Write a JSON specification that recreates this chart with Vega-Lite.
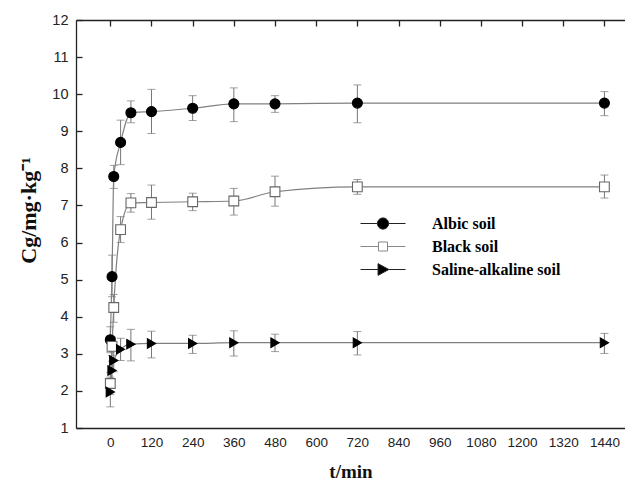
{
  "$schema": "https://vega.github.io/schema/vega-lite/v6.json",
  "width": 549,
  "height": 408,
  "autosize": {"type": "none"},
  "padding": {"left": 76, "top": 20, "right": 0, "bottom": 56},
  "background": "white",
  "config": {
    "view": {"stroke": null},
    "axis": {
      "grid": false,
      "labelOverlap": false,
      "labelFont": "Liberation Sans",
      "labelFontSize": 14,
      "labelColor": "#222",
      "domainColor": "#222",
      "domainWidth": 1.3,
      "titleFont": "Liberation Serif",
      "titleFontWeight": "bold",
      "titleFontSize": 19,
      "titleColor": "#111"
    }
  },
  "data": {
    "values": [
      {"series": "Albic soil", "t": 0, "v": 3.38, "lo": 3.03, "hi": 3.73},
      {"series": "Albic soil", "t": 5, "v": 5.08, "lo": 4.54, "hi": 5.66},
      {"series": "Albic soil", "t": 10, "v": 7.78, "lo": 7.46, "hi": 8.08},
      {"series": "Albic soil", "t": 30, "v": 8.7, "lo": 8.1, "hi": 9.3},
      {"series": "Albic soil", "t": 60, "v": 9.5, "lo": 9.23, "hi": 9.82},
      {"series": "Albic soil", "t": 120, "v": 9.53, "lo": 8.94, "hi": 10.13},
      {"series": "Albic soil", "t": 240, "v": 9.62, "lo": 9.29, "hi": 9.96},
      {"series": "Albic soil", "t": 360, "v": 9.74, "lo": 9.26, "hi": 10.17},
      {"series": "Albic soil", "t": 480, "v": 9.74, "lo": 9.51, "hi": 9.96},
      {"series": "Albic soil", "t": 720, "v": 9.76, "lo": 9.23, "hi": 10.25},
      {"series": "Albic soil", "t": 1440, "v": 9.76, "lo": 9.42, "hi": 10.07},
      {"series": "Black soil", "t": 0, "v": 2.2, "lo": 1.9, "hi": 2.5},
      {"series": "Black soil", "t": 5, "v": 3.2, "lo": 2.95, "hi": 3.45},
      {"series": "Black soil", "t": 10, "v": 4.25, "lo": 3.85, "hi": 4.6},
      {"series": "Black soil", "t": 30, "v": 6.35, "lo": 6.0, "hi": 6.7},
      {"series": "Black soil", "t": 60, "v": 7.07, "lo": 6.82, "hi": 7.32},
      {"series": "Black soil", "t": 120, "v": 7.08, "lo": 6.63, "hi": 7.55},
      {"series": "Black soil", "t": 240, "v": 7.1, "lo": 6.86, "hi": 7.33},
      {"series": "Black soil", "t": 360, "v": 7.12, "lo": 6.74, "hi": 7.46},
      {"series": "Black soil", "t": 480, "v": 7.37, "lo": 6.98, "hi": 7.79},
      {"series": "Black soil", "t": 720, "v": 7.5, "lo": 7.3, "hi": 7.7},
      {"series": "Black soil", "t": 1440, "v": 7.5, "lo": 7.2, "hi": 7.82},
      {"series": "Saline-alkaline soil", "t": 0, "v": 1.97, "lo": 1.57, "hi": 2.37},
      {"series": "Saline-alkaline soil", "t": 5, "v": 2.55, "lo": 2.3, "hi": 2.8},
      {"series": "Saline-alkaline soil", "t": 10, "v": 2.82, "lo": 2.52, "hi": 3.12},
      {"series": "Saline-alkaline soil", "t": 30, "v": 3.12, "lo": 2.82, "hi": 3.42},
      {"series": "Saline-alkaline soil", "t": 60, "v": 3.26, "lo": 2.81, "hi": 3.66},
      {"series": "Saline-alkaline soil", "t": 120, "v": 3.28, "lo": 2.89, "hi": 3.61},
      {"series": "Saline-alkaline soil", "t": 240, "v": 3.28, "lo": 3.01, "hi": 3.5},
      {"series": "Saline-alkaline soil", "t": 360, "v": 3.3, "lo": 2.94, "hi": 3.62},
      {"series": "Saline-alkaline soil", "t": 480, "v": 3.3, "lo": 3.06, "hi": 3.53},
      {"series": "Saline-alkaline soil", "t": 720, "v": 3.3, "lo": 2.97, "hi": 3.6},
      {"series": "Saline-alkaline soil", "t": 1440, "v": 3.3, "lo": 3.01, "hi": 3.55}
    ]
  },
  "resolve": {"scale": {"shape": "independent", "fill": "independent", "stroke": "independent", "size": "independent"}, "axis": {"x": "independent", "y": "independent"}},
  "layer": [
    {
      "mark": {"type": "rule", "color": "#777", "strokeWidth": 1},
      "encoding": {
        "x": {"field": "t", "type": "quantitative", "scale": {"domain": [-100, 1500], "nice": false, "zero": false},
              "axis": {"orient": "top", "labels": false, "ticks": false, "title": null, "domain": true, "grid": false}},
        "y": {"field": "lo", "type": "quantitative", "scale": {"domain": [1, 12], "nice": false, "zero": false},
              "axis": {"values": [1,2,3,4,5,6,7,8,9,10,11,12], "labelOverlap": false, "ticks": false,
                       "grid": true, "gridDash": [6, 2000], "gridColor": "#222", "gridWidth": 1.3, "gridOpacity": 1,
                       "labelPadding": 8, "labelFontSize": 14.5, "title": "Cg/mg·kg⁻¹", "titlePadding": 11, "titleFontSize": 22, "titleY": 190}},
        "y2": {"field": "hi"}
      }
    },
    {
      "mark": {"type": "tick", "orient": "horizontal", "color": "#777", "size": 8, "thickness": 1},
      "encoding": {
        "x": {"field": "t", "type": "quantitative", "axis": null},
        "y": {"field": "lo", "type": "quantitative", "axis": null}
      }
    },
    {
      "mark": {"type": "tick", "orient": "horizontal", "color": "#777", "size": 8, "thickness": 1},
      "encoding": {
        "x": {"field": "t", "type": "quantitative", "axis": null},
        "y": {"field": "hi", "type": "quantitative", "axis": null}
      }
    },
    {
      "mark": {"type": "line", "color": "#808080", "strokeWidth": 1.2, "interpolate": "monotone"},
      "encoding": {
        "x": {"field": "t", "type": "quantitative",
              "axis": {"orient": "bottom", "values": [0,120,240,360,480,600,720,840,960,1080,1200,1320,1440], "format": "d",
                       "labelOverlap": false, "ticks": false,
                       "grid": true, "gridDash": [6, 2000], "gridColor": "#222", "gridWidth": 1.3, "gridOpacity": 1,
                       "labelPadding": 7, "title": "t/min", "titlePadding": 14, "labelFontSize": 13.5}},
        "y": {"field": "v", "type": "quantitative", "axis": null},
        "detail": {"field": "series"}
      }
    },
    {
      "mark": {"type": "point", "filled": false, "opacity": 1, "strokeWidth": 1.1},
      "encoding": {
        "x": {"field": "t", "type": "quantitative", "axis": null},
        "y": {"field": "v", "type": "quantitative", "axis": null},
        "shape": {"field": "series", "type": "nominal", "legend": null,
                  "scale": {"domain": ["Albic soil", "Black soil", "Saline-alkaline soil"], "range": ["circle", "square", "triangle-right"]}},
        "size": {"field": "series", "type": "nominal", "legend": null,
                 "scale": {"domain": ["Albic soil", "Black soil", "Saline-alkaline soil"], "range": [100, 90, 150]}},
        "fill": {"field": "series", "type": "nominal", "legend": null,
                 "scale": {"domain": ["Albic soil", "Black soil", "Saline-alkaline soil"], "range": ["#000000", "#ffffff", "#000000"]}},
        "stroke": {"field": "series", "type": "nominal", "legend": null,
                   "scale": {"domain": ["Albic soil", "Black soil", "Saline-alkaline soil"], "range": ["#000000", "#666666", "#000000"]}}
      }
    },
    {
      "mark": {"type": "point", "size": 0, "opacity": 1, "filled": false},
      "encoding": {
        "x": {"field": "t", "type": "quantitative", "axis": null},
        "y": {"field": "v", "type": "quantitative", "axis": null},
        "shape": {"field": "series", "type": "nominal",
                  "scale": {"domain": ["Albic soil", "Black soil", "Saline-alkaline soil"],
                            "range": ["M-1,0H-0.25M0.25,0H1M-0.25,0A0.25,0.25,0,1,1,0.25,0A0.25,0.25,0,1,1,-0.25,0Z",
                                      "M-1,0H-0.2M0.2,0H1M-0.2,-0.2H0.2V0.2H-0.2Z",
                                      "M-1,0H-0.22M0.26,0H1M-0.22,-0.26L0.26,0L-0.22,0.26Z"]},
                  "legend": {
                    "orient": "none", "legendX": 284, "legendY": 193, "title": null,
                    "symbolSize": 2025, "symbolStrokeWidth": 1,
                    "labelFont": "Liberation Serif", "labelFontWeight": "bold", "labelFontSize": 16, "labelColor": "#000",
                    "labelOffset": 26, "rowPadding": 2, "clipHeight": 21
                  }},
        "fill": {"field": "series", "type": "nominal",
                 "scale": {"domain": ["Albic soil", "Black soil", "Saline-alkaline soil"], "range": ["#000000", "#ffffff", "#000000"]}},
        "stroke": {"field": "series", "type": "nominal",
                   "scale": {"domain": ["Albic soil", "Black soil", "Saline-alkaline soil"], "range": ["#222222", "#888888", "#222222"]}}
      }
    }
  ]
}
